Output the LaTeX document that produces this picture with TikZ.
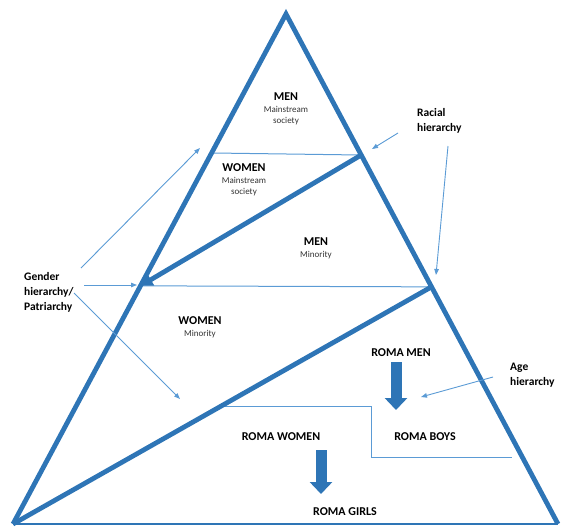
\documentclass[tikz,border=0pt]{standalone}
\usepackage{fontspec}
\setmainfont{Carlito}
\usepackage{tikz}
\usetikzlibrary{positioning}
\usetikzlibrary{arrows.meta}
\usetikzlibrary{calc}
\definecolor{mainblue}{HTML}{2E75B6}
\definecolor{lightblue}{HTML}{5B9BD5}
\tikzset{
        side/.style={draw=mainblue,line width=4.8pt},
        base/.style={draw=mainblue,line width=2pt},
        split/.style={draw=lightblue,line width=1pt},
        pointer/.style={draw=lightblue,line width=0.9pt,-{Triangle[length=6pt,width=4.5pt]}},
        bigarrow/.style={draw=mainblue,line width=11pt,-{Triangle[length=12pt,width=22pt]}},
        head/.style={inner sep=0pt,font=\fontsize{12}{15}\selectfont\bfseries},
        sub/.style={inner sep=0pt,align=center,text=black!80,font=\fontsize{9}{11}\selectfont},
        tag/.style={inner sep=0pt,anchor=west,align=left,font=\fontsize{11.5}{15}\selectfont\bfseries}
}
\begin{document}
\begin{tikzpicture}[x=1pt,y=-1pt]
        \useasboundingbox (0,0) rectangle (561,527);

        \coordinate (T) at (286,14);
        \coordinate (L) at (13,524);
        \coordinate (R) at (558,524);
        \coordinate (Q) at ($(T)!0.2725!(L)$);
        \coordinate (P) at ($(T)!0.2765!(R)$);
        \coordinate (S) at ($(T)!0.533!(L)$);
        \coordinate (U) at ($(T)!0.535!(R)$);
        \coordinate (V) at ($(U)!0.506!(L)$);
        \coordinate (X) at (371,457);
        \coordinate (Y) at (512,457);

        \draw[split] (Q) -- (P);
        \draw[split] (S) -- (U);
        \draw[split] (V) -| (X) -- (Y);
        \draw[side,line join=miter] (L) -- (T) -- (R);
        \draw[base] (L) -- (R);
        \draw[side,-{Triangle[length=12pt,width=13pt]}] (P) -- (S);
        \draw[side] (U) -- (L);

        \node[head] (M1) at (286,97) {MEN};
        \node[sub,below=5pt of M1] (M1s) {Mainstream\\society};
        \node[head] (W1) at (244,168) {WOMEN};
        \node[sub,below=5pt of W1] (W1s) {Mainstream\\society};
        \node[head] (M2) at (316,242) {MEN};
        \node[sub,below=5pt of M2] (M2s) {Minority};
        \node[head] (W2) at (200,321) {WOMEN};
        \node[sub,below=5pt of W2] (W2s) {Minority};

        \node[head] (RM) at (401,353) {ROMA MEN};
        \node[head] (RB) at (425,437) {ROMA BOYS};
        \node[head] (RW) at (281,437) {ROMA WOMEN};
        \node[head] (RG) at (345,512) {ROMA GIRLS};

        \coordinate (A1) at (396,362);
        \coordinate (A2) at (396,410);
        \coordinate (B1) at (321,450);
        \coordinate (B2) at (321,494);
        \draw[bigarrow] (A1) -- (A2);
        \draw[bigarrow] (B1) -- (B2);

        \node[tag] (RH) at (417,121) {Racial\\hierarchy};
        \node[tag] (GH) at (24,292) {Gender\\hierarchy/\\Patriarchy};
        \node[tag] (AH) at (510,375) {Age\\hierarchy};

        \coordinate (r1) at (398,133);
        \coordinate (r2) at (372,149);
        \coordinate (r3) at (448,146);
        \coordinate (r4) at (436,275);
        \coordinate (g1) at (81,268);
        \coordinate (g2) at (200,148);
        \coordinate (g3) at (84,285);
        \coordinate (g4) at (137,285);
        \coordinate (g5) at (74,293);
        \coordinate (g6) at (180,399);
        \coordinate (a1) at (493,377);
        \coordinate (a2) at (421,397);

        \draw[pointer] (r1) -- (r2);
        \draw[pointer] (r3) -- (r4);
        \draw[pointer] (g1) -- (g2);
        \draw[pointer] (g3) -- (g4);
        \draw[pointer] (g5) -- (g6);
        \draw[pointer] (a1) -- (a2);
\end{tikzpicture}
\end{document}
